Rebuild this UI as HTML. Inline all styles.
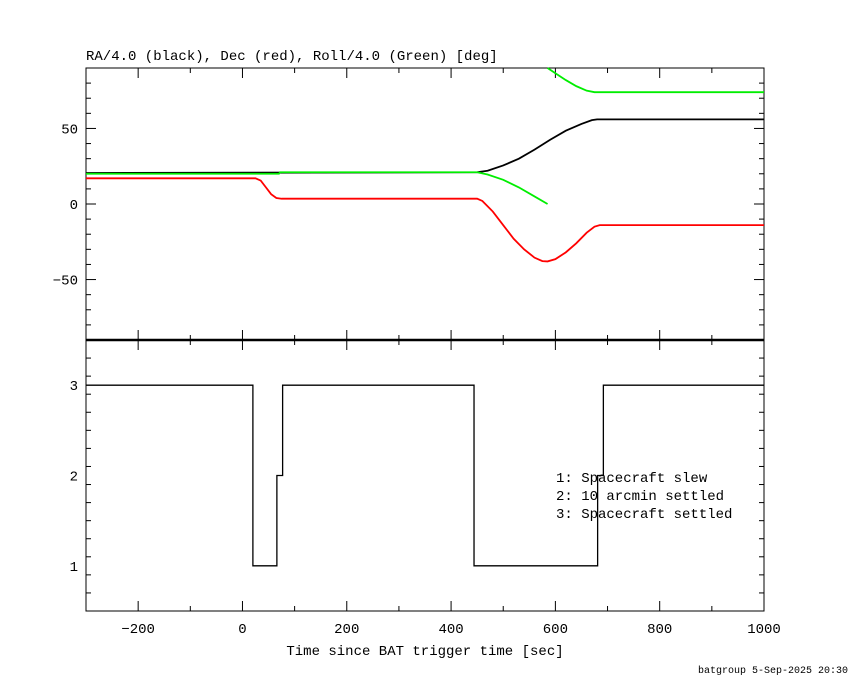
<!DOCTYPE html>
<html><head><meta charset="utf-8"><style>
body{margin:0;background:#fff}
svg text{font-family:"Liberation Mono",monospace;font-size:14px;fill:#000}
</style></head><body>
<svg id="c" width="850" height="680"></svg>
<script>
const blackT=[-300,450,470,500,530,560,590,620,650,670,680,1000];
const blackV=[20.5,21,22,25.5,30,36,42.5,48.5,53,55.5,56,56];
const greenT1=[-300,70,72,450,470,500,530,560,585];
const greenV1=[20,20,21,21,19.5,16,11,5,0];
const greenT2=[585,600,620,640,660,675,680,1000];
const greenV2=[90,86.5,82,78,75,74,74,74];
const redT=[-300,25,35,45,55,65,75,450,460,480,500,520,540,560,575,585,600,620,640,660,675,685,1000];
const redV=[17,17,15.5,11,6.5,4,3.5,3.5,2,-5,-14,-23,-30,-35.5,-37.8,-38,-36.5,-32,-26,-19,-15,-14,-14];
const stepT=[-300,20,66,77,444,681,692,1000];
const stepV=[3,1,2,3,1,2,3,3];
const xTicks=[-200,0,200,400,600,800,1000];
const yTopTicks=[-50,0,50];
const yBotTicks=[1,2,3];
const legendLines=["1: Spacecraft slew","2: 10 arcmin settled","3: Spacecraft settled"];

const L=86,R=764,T1=68,B1=340,T2=340,B2=611;
const X=t=>L+(t+300)/1300*(R-L);
const Y1=v=>T1+(90-v)/180*(B1-T1);
const Y2=v=>T2+(3.5-v)/3*(B2-T2);
const svg=document.getElementById('c');
const NS='http://www.w3.org/2000/svg';
function mk(tag,attrs,name){const e=document.createElementNS(NS,tag);for(const k in attrs)e.setAttribute(k,attrs[k]);


svg.appendChild(e);return e;}
function txt(x,y,s,anchor,name){const e=mk('text',{x:x,y:y,'text-anchor':anchor},name);e.textContent=s;return e;}

mk('rect',{x:L,y:T1,width:R-L,height:B2-T1,fill:'none',stroke:'#000','stroke-width':1},'plot-frame');
mk('line',{x1:L,y1:B1,x2:R,y2:B1,stroke:'#000','stroke-width':2.5},'panel-divider');
for(let t=-300;t<=1000;t+=100){const big=t%200===0;const len=big?10:5;
 [[T1,1],[B1,-1],[T2,1],[B2,-1]].forEach(([y,d])=>mk('line',{x1:X(t),y1:y,x2:X(t),y2:y+d*len,stroke:'#000'},'x-tick'));}
xTicks.forEach(t=>txt(X(t),633,t<0?'\u2212'+(-t):String(t),'middle','x-tick-label'));
for(let v=-90;v<=90;v+=10){const big=v%50===0;const len=big?10:5;
 mk('line',{x1:L,y1:Y1(v),x2:L+len,y2:Y1(v),stroke:'#000'},'y-tick');
 mk('line',{x1:R,y1:Y1(v),x2:R-len,y2:Y1(v),stroke:'#000'},'y-tick');}
yTopTicks.forEach(v=>txt(78,Y1(v)+5,v<0?'\u2212'+(-v):String(v),'end','y-tick-label'));
for(let i=5;i<=35;i+=2){const v=i/10;const big=(i%10===0);const len=big?10:5;
 mk('line',{x1:L,y1:Y2(v),x2:L+len,y2:Y2(v),stroke:'#000'},'y-tick');
 mk('line',{x1:R,y1:Y2(v),x2:R-len,y2:Y2(v),stroke:'#000'},'y-tick');}
yBotTicks.forEach(v=>txt(78,Y2(v)+5,String(v),'end','y-tick-label'));
function poly(ts,vs,yf,col,name,w){mk('polyline',{points:ts.map((t,i)=>X(t)+','+yf(vs[i])).join(' '),fill:'none',stroke:col,'stroke-width':w},name);}
poly(redT,redV,Y1,'#f00','dec-series',1.8);
poly(blackT,blackV,Y1,'#000','ra-series',1.8);
poly(greenT1,greenV1,Y1,'#0e0','roll-series',1.8);
poly(greenT2,greenV2,Y1,'#0e0','roll-series-wrapped',1.8);
let pts=[];for(let i=0;i<stepT.length-1;i++){pts.push(X(stepT[i])+','+Y2(stepV[i]));pts.push(X(stepT[i+1])+','+Y2(stepV[i]));}
mk('polyline',{points:pts.join(' '),fill:'none',stroke:'#000','stroke-width':1.3},'settle-status-step');
legendLines.forEach((s,i)=>txt(556,482+i*18,s,'start','legend-entry'));
txt(86,60,'RA/4.0 (black), Dec (red), Roll/4.0 (Green) [deg]','start','top-title');
txt(425,655,'Time since BAT trigger time [sec]','middle','x-axis-title');
const f=txt(848,673,'batgroup  5-Sep-2025 20:30','end','footer-stamp');f.style.fontSize='10px';f.setAttribute('xml:space','preserve');
</script>
</body></html>
